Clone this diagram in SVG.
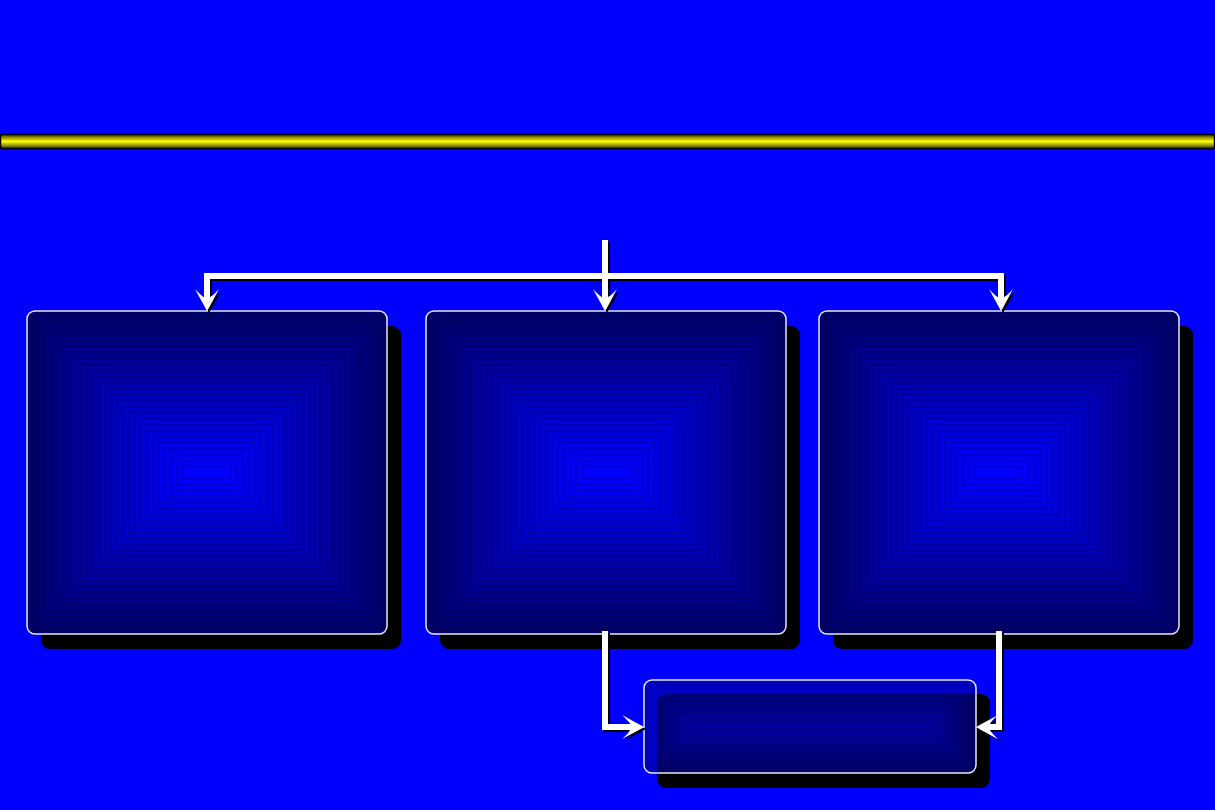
<svg xmlns="http://www.w3.org/2000/svg" xmlns:xlink="http://www.w3.org/1999/xlink" width="1215" height="810" viewBox="0 0 1215 810">
<defs>
<style>
.border{fill:none;stroke:#e8e8f0;stroke-width:1.5}
.shadow{fill:#000}
.conn{fill:none;stroke:#fff;stroke-width:6;stroke-linecap:butt;stroke-linejoin:miter}
.ah{fill:#fff}
.pyr rect{stroke:#000030;stroke-opacity:0.2;stroke-width:2}
</style>
<linearGradient id="bar" x1="0" y1="0" x2="0" y2="1">
<stop offset="0" stop-color="#303000"/>
<stop offset="0.25" stop-color="#a0a000"/>
<stop offset="0.5" stop-color="#ffff00"/>
<stop offset="0.75" stop-color="#a0a000"/>
<stop offset="1" stop-color="#303000"/>
</linearGradient>
<filter id="dsh" filterUnits="userSpaceOnUse" x="0" y="0" width="1215" height="810">
<feDropShadow dx="2" dy="2" stdDeviation="0.6" flood-color="#000" flood-opacity="1"/>
</filter>
<path id="ahead" d="M0,0 L-12,-22 Q-5,-14 0,-12 Q5,-14 12,-22 Z"/>
<g id="pyrBig" class="pyr">
<rect x="0" y="0" width="360" height="323" rx="8" fill="#000066"/>
<rect x="6" y="6" width="348" height="311" fill="#00006c"/>
<rect x="12" y="12" width="336" height="299" fill="#000072"/>
<rect x="18" y="18" width="324" height="287" fill="#000078"/>
<rect x="24" y="24" width="312" height="275" fill="#00007e"/>
<rect x="30" y="30" width="300" height="263" fill="#000084"/>
<rect x="36" y="36" width="288" height="251" fill="#00008a"/>
<rect x="42" y="42" width="276" height="239" fill="#000090"/>
<rect x="48" y="48" width="264" height="227" fill="#000096"/>
<rect x="54" y="54" width="252" height="215" fill="#00009c"/>
<rect x="60" y="60" width="240" height="203" fill="#0000a2"/>
<rect x="66" y="66" width="228" height="191" fill="#0000a8"/>
<rect x="72" y="72" width="216" height="179" fill="#0000ae"/>
<rect x="78" y="78" width="204" height="167" fill="#0000b4"/>
<rect x="84" y="84" width="192" height="155" fill="#0000ba"/>
<rect x="90" y="90" width="180" height="143" fill="#0000c0"/>
<rect x="96" y="96" width="168" height="131" fill="#0000c6"/>
<rect x="102" y="102" width="156" height="119" fill="#0000cc"/>
<rect x="108" y="108" width="144" height="107" fill="#0000d2"/>
<rect x="114" y="114" width="132" height="95" fill="#0000d8"/>
<rect x="120" y="120" width="120" height="83" fill="#0000de"/>
<rect x="126" y="126" width="108" height="71" fill="#0000e4"/>
<rect x="132" y="132" width="96" height="59" fill="#0000ea"/>
<rect x="138" y="138" width="84" height="47" fill="#0000f0"/>
<rect x="144" y="144" width="72" height="35" fill="#0000f5"/>
<rect x="150" y="150" width="60" height="23" fill="#0000fa"/>
<rect x="156" y="156" width="48" height="11" fill="#0000ff"/>
</g>
<g id="pyrSmall" class="pyr">
<rect x="0" y="0" width="332" height="93" rx="8" fill="#0000a0"/>
<rect x="4" y="4" width="324" height="85" fill="#0000a9"/>
<rect x="8" y="8" width="316" height="77" fill="#0000b2"/>
<rect x="12" y="12" width="308" height="69" fill="#0000bb"/>
<rect x="16" y="16" width="300" height="61" fill="#0000c4"/>
<rect x="20" y="20" width="292" height="53" fill="#0000cd"/>
<rect x="24" y="24" width="284" height="45" fill="#0000d6"/>
<rect x="28" y="28" width="276" height="37" fill="#0000df"/>
<rect x="32" y="32" width="268" height="29" fill="#0000e8"/>
<rect x="36" y="36" width="260" height="21" fill="#0000f0"/>
<rect x="40" y="40" width="252" height="13" fill="#0000f8"/>
<rect x="44" y="44" width="244" height="5" fill="#0000ff"/>
</g>
</defs>

<rect x="0" y="0" width="1215" height="810" fill="#0000ff"/>
<rect id="titlebar" x="0.5" y="134.5" width="1214" height="14" fill="url(#bar)" stroke="#000" stroke-width="1.5"/>

<g id="node-left">
<rect class="shadow" x="41" y="326" width="360" height="323" rx="9"/>
<use xlink:href="#pyrBig" x="27" y="311"/>
<rect class="border" x="27" y="311" width="360" height="323" rx="8"/>
</g>
<g id="node-middle">
<rect class="shadow" x="440" y="326" width="360" height="323" rx="9"/>
<use xlink:href="#pyrBig" x="426" y="311"/>
<rect class="border" x="426" y="311" width="360" height="323" rx="8"/>
</g>
<g id="node-right">
<rect class="shadow" x="833" y="326" width="360" height="323" rx="9"/>
<use xlink:href="#pyrBig" x="819" y="311"/>
<rect class="border" x="819" y="311" width="360" height="323" rx="8"/>
</g>
<g id="node-bottom">
<rect class="shadow" x="657" y="694" width="333" height="94" rx="9"/>
<use xlink:href="#pyrSmall" x="644" y="680" opacity="0.65"/>
<rect class="border" x="644" y="680" width="332" height="93" rx="8"/>
</g>

<g id="connectors" filter="url(#dsh)">
<path class="conn" d="M605,240 V300"/>
<path class="conn" d="M207,300 V276 H1001 V300"/>
<path class="conn" d="M605,631 V727 H633"/>
<path class="conn" d="M999,631 V727 H987"/>
<use xlink:href="#ahead" class="ah" transform="translate(207,311)"/>
<use xlink:href="#ahead" class="ah" transform="translate(605,311)"/>
<use xlink:href="#ahead" class="ah" transform="translate(1001,311)"/>
<use xlink:href="#ahead" class="ah" transform="translate(644,727) rotate(-90)"/>
<use xlink:href="#ahead" class="ah" transform="translate(976,727) rotate(90)"/>
</g>
</svg>
